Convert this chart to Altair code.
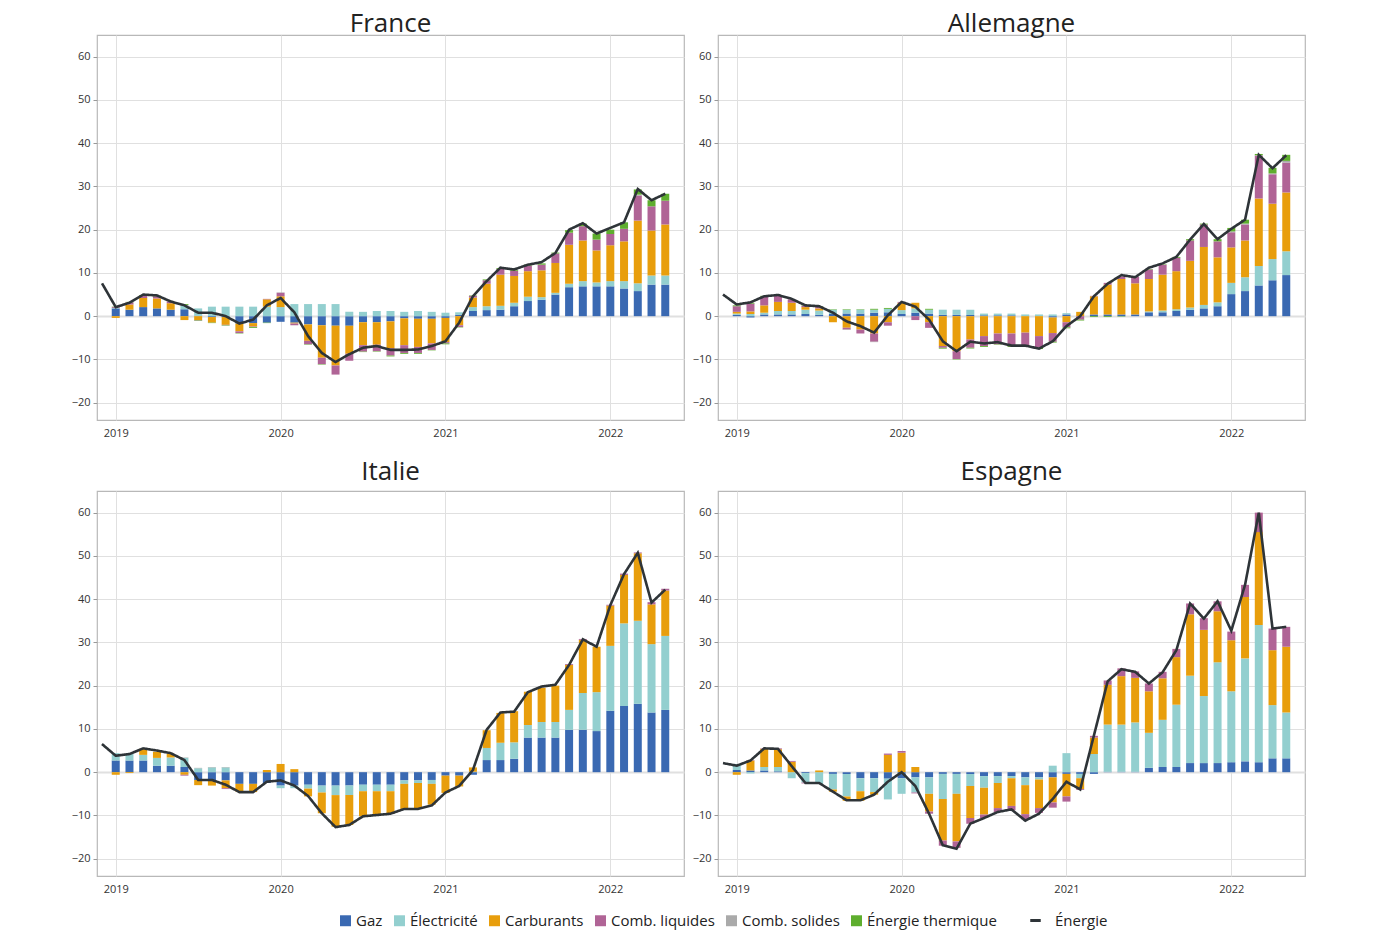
import altair as alt
import pandas as pd

# ---------------- data ----------------
YEAR_TICKS = ["2019", "2020", "2021", "2022"]
MONTHS = pd.date_range("2019-01-01", periods=41, freq="MS").strftime("%Y-%m").tolist()
LINE_MONTHS = ["2018-12"] + MONTHS
COUNTRIES = ["France", "Allemagne", "Italie", "Espagne"]
COMPONENTS = ["Gaz", "Électricité", "Carburants", "Comb. liquides", "Comb. solides", "Énergie thermique"]
COLORS = ["#3a69b2", "#93cfcf", "#e89e0c", "#b06496", "#aaaaaa", "#5eae2e"]
LINE_LABEL = "Énergie"

# France
fr_gaz = [1.8, 1.5, 2.1, 1.8, 1.5, 1.6, 0.1, -0.2, -0.2, -1.7, -1.6, -1.5, -1.3, -1.5, -1.9, -2.1, -2.2, -2.2, -1.4, -1.4, -1.2,
          -0.5, -0.6, -0.6, -0.4, 0.3, 1.2, 1.4, 1.5, 2.3, 3.5, 3.8, 5.0, 6.7, 6.9, 6.9, 6.9, 6.4, 5.8, 7.3, 7.3]
fr_elec = [0.1, 0.0, 0.0, 0.0, 0.0, 0.9, 1.7, 2.2, 2.2, 2.2, 2.2, 2.2, 2.1, 2.8, 2.8, 2.8, 2.8, 1.0, 1.0, 1.2, 1.2,
           1.0, 1.2, 1.0, 0.8, 0.6, 0.9, 0.9, 0.9, 0.8, 1.0, 0.6, 0.4, 0.8, 1.2, 0.9, 1.2, 1.7, 1.8, 2.1, 2.1]
fr_carb = [-0.4, 1.2, 2.1, 2.3, 1.5, -0.9, -0.9, -1.3, -1.8, -1.8, -0.8, 1.7, 2.5, -0.2, -3.8, -7.5, -9.2, -6.5, -5.3, -5.2, -6.2,
           -6.2, -6.5, -5.7, -5.6, -2.1, 2.2, 5.2, 7.2, 6.2, 5.9, 6.2, 6.9, 9.0, 9.4, 7.4, 8.3, 9.2, 14.5, 10.4, 11.8]
fr_liq = [0.2, 0.5, 0.5, 0.5, 0.4, 0.1, -0.1, 0.0, -0.1, -0.4, -0.1, 0.1, 0.8, -0.4, -0.8, -1.5, -2.1, -1.6, -1.5, -1.5, -1.7,
          -1.8, -1.4, -1.5, -0.3, -0.4, 0.4, 0.8, 1.3, 1.2, 1.3, 1.3, 2.2, 2.8, 3.3, 2.5, 2.6, 2.9, 5.8, 5.6, 5.5]
fr_sol = [0.0, 0.0, 0.0, 0.0, 0.0, 0.0, 0.0, 0.0, 0.0, 0.0, 0.0, 0.0, 0.1, 0.0, 0.0, 0.0, 0.0, 0.0, 0.0, 0.0, 0.0,
          0.0, 0.0, 0.0, 0.0, 0.0, 0.0, 0.0, 0.0, 0.0, 0.0, 0.0, 0.0, 0.0, 0.0, 0.0, 0.0, 0.0, 0.2, 0.0, 0.0]
fr_therm = [0.1, 0.1, 0.2, 0.1, 0.0, 0.2, -0.1, -0.1, -0.1, -0.1, -0.2, -0.1, 0.0, 0.0, -0.1, -0.1, 0.0, 0.0, -0.1, -0.1, -0.2,
            -0.2, -0.2, -0.1, -0.2, -0.1, 0.1, 0.2, 0.2, 0.2, 0.2, 0.3, 0.2, 0.6, 0.6, 1.4, 1.0, 1.5, 1.2, 1.4, 1.6]
fr_total = [7.6, 2.1, 3.1, 5.0, 4.8, 3.4, 2.5, 0.8, 0.8, 0.0, -1.7, -0.8, 2.5, 4.2, 0.9, -4.6, -8.5, -10.6, -8.8, -7.3, -6.9,
            -7.8, -7.8, -7.7, -6.9, -5.8, -1.5, 4.6, 8.1, 11.2, 10.8, 11.9, 12.5, 14.6, 20.0, 21.5, 19.1, 20.4, 21.7, 29.4, 26.8, 28.3]

# Allemagne
de_gaz = [0.3, -0.3, 0.4, 0.4, 0.4, 0.5, 0.3, 0.5, 0.6, 0.6, 0.8, 0.9, 0.5, 0.8, 0.6, 0.3, 0.3, 0.3, 0.2, 0.2, 0.2,
          0.0, 0.0, -0.3, 0.4, 0.0, 0.4, 0.4, 0.4, 0.4, 0.9, 0.9, 1.2, 1.5, 1.8, 2.3, 5.1, 5.8, 7.1, 8.3, 9.5]
de_elec = [0.3, 0.5, 0.4, 0.8, 0.8, 1.0, 1.0, 1.0, 0.9, 0.9, 0.7, 0.8, 0.9, 1.0, 0.9, 1.2, 1.2, 1.2, 0.4, 0.4, 0.4,
           0.4, 0.4, 0.4, 0.3, 0.0, 0.0, 0.0, 0.0, 0.0, 0.2, 0.4, 0.4, 0.5, 0.8, 0.9, 2.6, 3.2, 4.5, 4.9, 5.5]
de_carb = [0.4, 0.6, 1.7, 2.1, 1.9, 0.6, 0.5, -1.4, -2.7, -3.1, -4.0, -1.4, 1.7, 1.3, -1.4, -6.9, -8.1, -5.4, -4.6, -4.0, -4.0,
           -3.8, -4.6, -3.6, -1.4, 1.0, 4.2, 6.9, 8.2, 7.2, 7.5, 8.3, 8.8, 10.8, 13.4, 10.4, 8.2, 8.5, 15.6, 12.8, 13.6]
de_liq = [1.3, 1.8, 2.0, 1.4, 0.8, 0.3, 0.4, 0.0, -0.4, -0.9, -1.9, -0.8, 0.2, -0.9, -1.3, -0.4, -1.8, -1.9, -2.3, -2.5, -2.9,
          -2.9, -2.7, -2.0, -1.1, -0.8, 0.1, 0.4, 0.6, 1.5, 2.2, 2.3, 3.1, 4.7, 5.2, 3.7, 3.5, 3.7, 9.9, 6.8, 6.9]
de_sol = [0.0, 0.0, 0.0, 0.0, 0.0, 0.0, 0.0, 0.0, -0.1, 0.0, -0.1, 0.0, 0.0, 0.0, 0.0, 0.0, 0.0, 0.0, 0.0, 0.0, 0.0,
          0.0, 0.0, 0.0, -0.1, 0.0, 0.0, 0.0, 0.0, 0.0, 0.0, 0.0, 0.0, 0.0, 0.0, 0.0, 0.2, 0.2, 0.1, 0.2, 0.4]
de_therm = [0.2, 0.2, 0.2, 0.1, 0.0, 0.1, 0.1, 0.1, 0.1, 0.1, 0.2, 0.2, 0.0, 0.0, 0.2, -0.2, -0.1, -0.2, -0.2, -0.1, -0.2,
            -0.3, -0.3, -0.2, -0.2, -0.2, -0.2, -0.2, -0.1, 0.0, 0.1, 0.1, 0.2, 0.3, 0.2, 0.5, 0.8, 0.9, 0.3, 1.3, 1.4]
de_total = [5.0, 2.7, 3.2, 4.6, 4.9, 4.0, 2.5, 2.3, 0.8, -1.2, -2.3, -3.8, 0.2, 3.3, 2.2, -0.8, -5.8, -8.1, -5.9, -6.3, -6.0,
            -6.8, -6.8, -7.5, -5.8, -2.3, 0.0, 4.6, 7.5, 9.5, 9.0, 11.2, 12.2, 13.7, 17.7, 21.3, 17.8, 20.2, 22.3, 37.3, 34.2, 37.2]

# Italie
it_gaz = [2.7, 2.7, 2.7, 1.5, 1.5, 1.2, -1.8, -1.9, -1.9, -2.7, -2.7, -2.5, -3.1, -3.1, -2.9, -3.1, -3.1, -3.1, -2.9, -2.9, -2.9,
          -1.9, -1.9, -1.8, -0.8, -0.8, -0.6, 2.8, 2.8, 3.1, 8.0, 8.0, 8.0, 9.8, 9.8, 9.5, 14.2, 15.3, 15.8, 13.8, 14.4]
it_elec = [1.7, 1.5, 1.3, 1.8, 1.9, 2.1, 0.9, 1.1, 1.1, 0.0, 0.0, 0.0, -0.6, -0.6, -0.9, -1.6, -2.2, -2.2, -1.5, -1.5, -1.5,
           -0.8, -0.6, -0.9, 0.0, 0.0, 0.1, 2.8, 4.0, 3.8, 2.9, 3.6, 3.6, 4.6, 8.5, 9.0, 15.0, 19.1, 19.2, 15.8, 17.1]
it_carb = [-0.6, -0.2, 1.4, 1.4, 0.8, -0.6, -1.2, -1.2, -1.8, -1.8, -1.9, 0.5, 1.9, 0.7, -1.8, -4.8, -7.3, -6.9, -5.8, -5.5, -5.2,
           -5.8, -5.8, -4.8, -4.0, -2.5, 1.0, 4.1, 6.9, 7.2, 7.7, 7.9, 8.4, 10.4, 12.3, 10.5, 9.3, 11.2, 15.6, 9.2, 10.5]
it_liq = [0.0, 0.0, 0.0, 0.0, 0.0, -0.2, 0.0, 0.0, -0.2, 0.0, 0.0, 0.0, 0.0, 0.0, 0.0, 0.0, 0.0, 0.0, 0.0, 0.0, 0.0,
          0.0, 0.0, 0.0, 0.0, 0.0, 0.0, 0.0, 0.0, 0.0, 0.0, 0.0, 0.0, 0.2, 0.2, 0.0, 0.2, 0.3, 0.2, 0.5, 0.4]
it_sol = [0.0, 0.0, 0.0, 0.0, 0.0, 0.1, 0.1, 0.1, 0.1, 0.0, 0.0, 0.0, 0.0, 0.0, 0.0, 0.0, 0.0, 0.0, 0.0, 0.0, 0.0,
          0.0, 0.0, 0.0, 0.0, 0.0, 0.0, 0.0, 0.0, 0.0, 0.0, 0.0, 0.0, 0.0, 0.0, 0.0, 0.0, 0.0, 0.0, 0.0, 0.0]
it_therm = [0.0] * 41
it_total = [6.5, 3.8, 4.2, 5.5, 5.0, 4.4, 2.8, -1.8, -1.8, -2.9, -4.6, -4.6, -2.2, -1.9, -3.1, -5.5, -9.5, -12.7, -12.2, -10.2, -9.9,
            -9.6, -8.5, -8.5, -7.7, -4.7, -3.2, 0.5, 9.8, 13.8, 14.0, 18.5, 19.8, 20.2, 24.8, 30.7, 29.0, 38.6, 45.8, 50.7, 39.2, 42.2]

# Espagne
es_gaz = [0.5, 0.4, 0.4, 0.2, 0.0, -0.2, 0.0, -0.4, -0.4, -1.4, -1.4, -1.5, -1.4, -1.2, -1.2, -0.4, -0.4, -0.4, -0.9, -0.9, -0.9,
          -1.2, -1.2, -1.2, -0.4, -0.4, -0.4, 0.1, 0.1, 0.1, 1.0, 1.2, 1.2, 2.1, 2.1, 2.1, 2.3, 2.5, 2.3, 3.2, 3.2]
es_elec = [1.4, -0.3, 0.8, 1.0, -1.4, -2.2, -2.7, -3.6, -5.2, -3.0, -3.2, -4.8, -3.6, -3.5, -3.8, -5.8, -4.6, -2.8, -2.7, -1.6, -0.5,
           -1.8, -0.5, 1.5, 4.4, -1.0, 4.2, 10.9, 10.9, 11.4, 8.1, 10.9, 14.4, 20.2, 15.5, 23.3, 16.4, 23.8, 31.7, 12.3, 10.6]
es_carb = [-0.6, 2.3, 4.2, 4.1, 2.4, 0.0, 0.4, -0.5, -1.0, -2.2, -0.6, 4.0, 4.5, 1.2, -4.1, -9.6, -11.0, -7.4, -6.2, -5.8, -6.4,
           -6.7, -6.6, -5.8, -5.2, -2.5, 3.8, 9.2, 11.2, 10.3, 9.6, 9.6, 11.0, 14.2, 15.3, 11.8, 11.8, 14.2, 21.5, 12.7, 15.2]
es_liq = [0.0, 0.1, 0.1, 0.2, 0.2, -0.2, 0.0, 0.0, 0.0, 0.0, 0.0, 0.3, 0.4, -0.2, -0.5, -1.2, -1.5, -1.3, -0.8, -0.9, -1.0,
          -1.2, -1.1, -1.2, -1.2, -0.2, 0.4, 1.0, 1.8, 1.5, 1.8, 1.5, 1.9, 2.5, 2.7, 2.3, 2.0, 2.8, 4.5, 5.0, 4.6]
es_sol = [0.0] * 41
es_therm = [0.0] * 41
es_total = [2.1, 1.5, 2.7, 5.5, 5.4, 1.4, -2.5, -2.5, -4.5, -6.5, -6.5, -5.2, -2.2, 0.0, -3.2, -9.6, -16.9, -17.7, -11.9, -10.6, -9.2,
            -8.6, -11.2, -9.6, -6.2, -2.2, -4.0, 8.5, 21.0, 23.8, 23.2, 20.5, 23.1, 28.2, 39.0, 35.5, 39.5, 32.7, 43.3, 60.0, 33.2, 33.6]

SERIES = {
    "France": [fr_gaz, fr_elec, fr_carb, fr_liq, fr_sol, fr_therm],
    "Allemagne": [de_gaz, de_elec, de_carb, de_liq, de_sol, de_therm],
    "Italie": [it_gaz, it_elec, it_carb, it_liq, it_sol, it_therm],
    "Espagne": [es_gaz, es_elec, es_carb, es_liq, es_sol, es_therm],
}
TOTALS = {"France": fr_total, "Allemagne": de_total, "Italie": it_total, "Espagne": es_total}


def month_index(s):
    y, m = s.split("-")
    return (int(y) - 2019) * 12 + int(m) - 1


bar_rows, line_rows = [], []
for pays in COUNTRIES:
    for k, (comp, vals) in enumerate(zip(COMPONENTS, SERIES[pays])):
        for mo, v in zip(MONTHS, vals):
            bar_rows.append({"pays": pays, "t": month_index(mo), "composante": comp, "ordre": k, "valeur": v})
    for mo, v in zip(LINE_MONTHS, TOTALS[pays]):
        line_rows.append({"pays": pays, "t": month_index(mo), "serie": LINE_LABEL, "valeur": v})
bars_df = pd.DataFrame(bar_rows)
line_df = pd.DataFrame(line_rows)

FONT = "Open Sans"
x_label_expr = str(YEAR_TICKS) + "[round(datum.value / 12)]"


def panel(pays, title_offset):
    x = alt.X("t:Q",
              scale=alt.Scale(domain=[-1, 41], nice=False, zero=False),
              axis=alt.Axis(values=[0, 12, 24, 36], labelExpr=x_label_expr, title=None,
                            grid=True, ticks=False, domain=False, labelPadding=7))
    y_axis = alt.Axis(values=list(range(-20, 61, 10)), title=None, domain=False,
                      tickSize=4, tickColor="#999999", labelPadding=3,
                      gridWidth=alt.condition("datum.value == 0", alt.value(2.2), alt.value(1)))
    bars = alt.Chart(bars_df[bars_df.pays == pays]).mark_bar(size=8).encode(
        x=x,
        y=alt.Y("valeur:Q", stack="zero",
                scale=alt.Scale(domain=[-24, 65], nice=False, zero=False), axis=y_axis),
        color=alt.Color("composante:N",
                        scale=alt.Scale(domain=COMPONENTS, range=COLORS),
                        legend=alt.Legend(title=None, orient="none", direction="horizontal",
                                          legendX=241, legendY=878,
                                          symbolType="square", symbolSize=120, symbolStrokeWidth=0,
                                          labelFontSize=15, labelFont=FONT, labelColor="#222222",
                                          labelOffset=3, columnPadding=9)),
        order=alt.Order("ordre:Q", sort="ascending"),
    )
    line = alt.Chart(line_df[line_df.pays == pays]).mark_line(color="#2e3438", strokeWidth=2.6).encode(
        x="t:Q",
        y="valeur:Q",
        strokeDash=alt.StrokeDash("serie:N",
                                  scale=alt.Scale(domain=[LINE_LABEL], range=[[1, 0]]),
                                  legend=alt.Legend(title=None, orient="none", direction="horizontal",
                                                    legendX=931, legendY=878,
                                                    symbolType="stroke", symbolSize=110,
                                                    symbolStrokeColor="#2e3438", symbolStrokeWidth=3,
                                                    labelFontSize=15, labelFont=FONT, labelColor="#222222",
                                                    labelOffset=12)),
    )
    return alt.layer(bars, line).properties(
        width=587, height=385,
        title=alt.Title(pays, fontSize=26, font=FONT, fontWeight="normal", color="#222222",
                        anchor="middle", offset=title_offset),
    )


row1 = alt.hconcat(panel("France", -2), panel("Allemagne", -2), spacing=6)
row2 = alt.hconcat(panel("Italie", 6), panel("Espagne", 6), spacing=6)
chart = alt.vconcat(row1, row2, spacing=19).properties(
    padding={"left": 62, "top": 2, "right": 5, "bottom": 5},
    background="white",
).configure_view(stroke="#b8b8b8", strokeWidth=1.2).configure_axis(
    labelFont=FONT, labelFontSize=11, labelColor="#333333", gridColor="#e0e0e0",
).configure_legend(padding=0)

chart.save("out.html", embed_options={"renderer": "svg", "actions": False})
